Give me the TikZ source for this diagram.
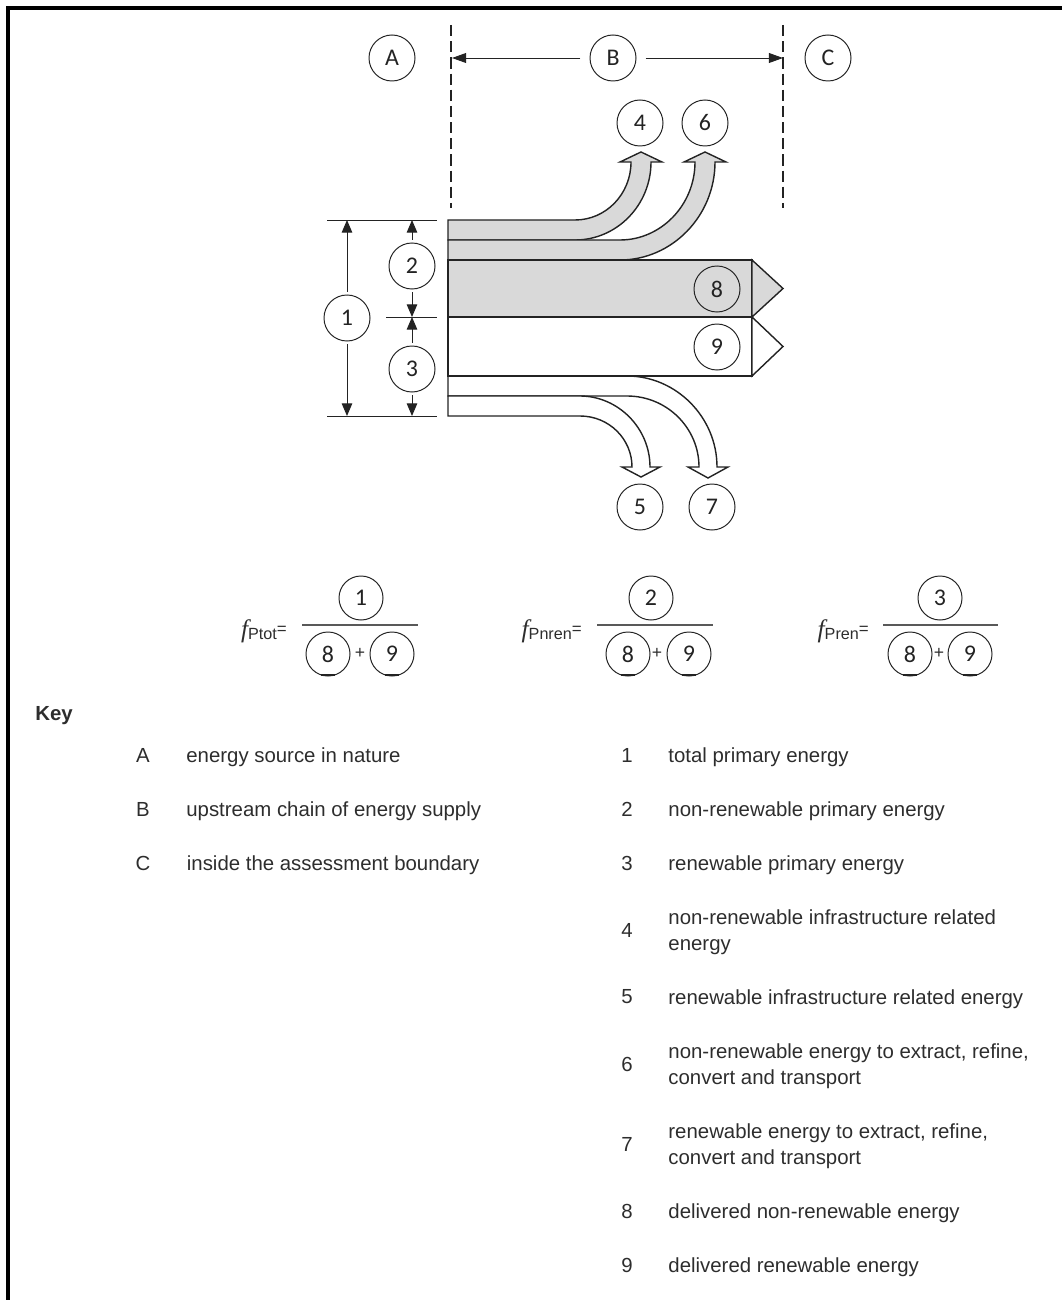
\documentclass[tikz,border=0pt]{standalone}
\usepackage{fontspec}
\setmainfont{Liberation Sans}
\newfontfamily\numfont{Carlito}
\newfontfamily\fsym{Liberation Serif}
\usetikzlibrary{arrows.meta,positioning}
\definecolor{flowgray}{RGB}{217,217,217}
\definecolor{ink}{RGB}{35,35,35}
\definecolor{keyink}{RGB}{45,45,45}
\newcommand{\fname}[1]{{\fsym\itshape\fontsize{18}{18}\selectfont f}\raisebox{-1.5pt}{\fontsize{11.5}{12}\selectfont #1}\raisebox{2pt}{\fontsize{12}{12}\selectfont =}}

\begin{document}
\begin{tikzpicture}[
  x=0.025cm, y=0.025cm,
  every node/.style={text=keyink},
  tag/.style={circle, draw=ink, line width=0.7pt, minimum size=1.15cm,
    inner sep=0pt, font=\numfont\fontsize{17}{17}\selectfont, text=ink},
  ftag/.style={tag, minimum size=1.1cm},
  flow/.style={draw=ink, line width=1pt, line join=miter},
  bound/.style={draw=ink, line width=0.8pt, dash pattern=on 8pt off 3.5pt},
  ext/.style={draw=ink, line width=0.7pt},
  dim/.style={ext, -{Triangle[length=9pt,width=7.5pt]}, shorten <=2pt},
  span/.style={ext, -{Triangle[length=10pt,width=7pt]}, shorten <=6.5pt},
  frac/.style={draw=black!65, line width=1.4pt},
  uline/.style={draw=ink, line width=2pt},
  plus/.style={font=\fontsize{12.5}{12.5}\selectfont, inner sep=0pt},
  keyid/.style={inner sep=0pt, font=\fontsize{14.5}{18.5}\selectfont},
  keytxt/.style={keyid, align=left, yshift=-0.05cm}
]
  \useasboundingbox (0,0) rectangle (1062,-1300);
  \draw[line width=2.2pt] (8,-1300) -- (8,-8) -- (1062,-8);

  % zones and boundaries
  \draw[bound] (451,-25) -- (451,-208);
  \draw[bound] (783,-25) -- (783,-208);
  \node[tag] (zA) at (392,-58) {A};
  \node[tag] (zB) at (613,-58) {B};
  \node[tag] (zC) at (828,-58) {C};
  \coordinate (bndL) at (452,-58);
  \coordinate (bndR) at (783,-58);
  \draw[span] (zB) -- (bndL);
  \draw[span] (zB) -- (bndR);

  % upward flows (grey)
  \draw[flow, fill=flowgray] (448,-220) -- (575,-220) .. controls (606,-220) and (631,-194) .. (631,-162)
    -- (620,-162) -- (641,-152) -- (662,-162) -- (651,-162)
    .. controls (651,-205) and (617,-240) .. (575,-240) -- (448,-240) -- cycle;
  \draw[flow, fill=flowgray] (448,-240) -- (620,-240) .. controls (661,-240) and (695,-205) .. (695,-162)
    -- (684,-162) -- (705,-152) -- (726,-162) -- (715,-162)
    .. controls (715,-216) and (672,-260) .. (620,-260) -- (448,-260) -- cycle;

  % downward flows (white)
  \draw[flow, fill=white] (448,-376) -- (627,-376) .. controls (676,-376) and (717,-417) .. (717,-467)
    -- (728,-467) -- (708,-478) -- (688,-467) -- (699,-467)
    .. controls (699,-428) and (667,-396) .. (627,-396) -- (448,-396) -- cycle;
  \draw[flow, fill=white] (448,-396) -- (580,-396) .. controls (618,-396) and (650,-428) .. (650,-467)
    -- (660,-467) -- (641,-477) -- (622,-467) -- (632,-467)
    .. controls (632,-439) and (609,-416) .. (580,-416) -- (448,-416) -- cycle;

  % delivered energy
  \draw[flow, fill=flowgray] (448,-260) rectangle (752,-317);
  \draw[flow, fill=flowgray] (752,-260) -- (783,-288.5) -- (752,-317) -- cycle;
  \draw[flow, fill=white] (448,-317) rectangle (752,-376);
  \draw[flow, fill=white] (752,-317) -- (783,-346.5) -- (752,-376) -- cycle;

  \node[tag] (n4) at (640,-123) {4};
  \node[tag] (n6) at (705,-123) {6};
  \node[tag] (n5) at (640,-507) {5};
  \node[tag] (n7) at (712,-507) {7};
  \node[tag] (n8) at (717,-289) {8};
  \node[tag] (n9) at (717,-347) {9};

  % dimensions
  \draw[ext] (327,-220) -- (437,-220);
  \draw[ext] (386,-317) -- (437,-317);
  \draw[ext] (327,-416) -- (437,-416);
  \node[tag] (n1) at (347,-318) {1};
  \node[tag] (n2) at (412,-266) {2};
  \node[tag] (n3) at (412,-369) {3};
  \coordinate (d1t) at (347,-220);
  \coordinate (d1b) at (347,-416);
  \coordinate (d2t) at (412,-220);
  \coordinate (d2b) at (412,-317);
  \coordinate (d3t) at (412,-317);
  \coordinate (d3b) at (412,-416);
  \draw[dim] (n1) -- (d1t);
  \draw[dim] (n1) -- (d1b);
  \draw[dim] (n2) -- (d2t);
  \draw[dim] (n2) -- (d2b);
  \draw[dim] (n3) -- (d3t);
  \draw[dim] (n3) -- (d3b);

  % factors
  \node[anchor=base east, inner sep=0pt] (fPtot) at (287,-637) {\fname{Ptot}};
  \draw[frac] (302,-625) -- (418,-625);
  \node[ftag] (ftot) at (361,-598) {1};
  \node[ftag] (ftot8) at (328,-654) {8};
  \node[ftag] (ftot9) at (392,-654) {9};
  \node[plus] (ftotp) at (360,-653) {+};

  \node[anchor=base east, inner sep=0pt] (fPnren) at (582,-637) {\fname{Pnren}};
  \draw[frac] (597,-625) -- (713,-625);
  \node[ftag] (fnren) at (651,-598) {2};
  \node[ftag] (fnren8) at (628,-654) {8};
  \node[ftag] (fnren9) at (689,-654) {9};
  \node[plus] (fnrenp) at (657,-653) {+};

  \node[anchor=base east, inner sep=0pt] (fPren) at (869,-637) {\fname{Pren}};
  \draw[frac] (883,-625) -- (998,-625);
  \node[ftag] (fren) at (940,-598) {3};
  \node[ftag] (fren8) at (910,-654) {8};
  \node[ftag] (fren9) at (970,-654) {9};
  \node[plus] (frenp) at (939,-653) {+};

  \foreach \n in {ftot8,ftot9,fnren8,fnren9,fren8,fren9}
    \draw[uline] (\n.south) +(-7,1.5) -- +(7,1.5);

  % key
  \node[keyid, font=\bfseries\fontsize{14.5}{18.5}\selectfont, anchor=west] (key) at (35,-716) {Key};
  \node[keyid] (kA) at (143,-755) {A};
  \node[keytxt, right=0.9cm of kA] (kAt) {energy source in nature};
  \node[keyid] (kB) at (143,-809) {B};
  \node[keytxt, right=0.9cm of kB] (kBt) {upstream chain of energy supply};
  \node[keyid] (kC) at (143,-863) {C};
  \node[keytxt, right=0.9cm of kC] (kCt) {inside the assessment boundary};

  \node[keyid] (k1) at (627,-755) {1};
  \node[keytxt, right=0.88cm of k1] (k1t) {total primary energy};
  \node[keyid] (k2) at (627,-809) {2};
  \node[keytxt, right=0.88cm of k2] (k2t) {non-renewable primary energy};
  \node[keyid] (k3) at (627,-863) {3};
  \node[keytxt, right=0.88cm of k3] (k3t) {renewable primary energy};
  \node[keyid] (k4) at (627,-930) {4};
  \node[keytxt, right=0.88cm of k4] (k4t) {non-renewable infrastructure related\\energy};
  \node[keyid] (k5) at (627,-997) {5};
  \node[keytxt, right=0.88cm of k5] (k5t) {renewable infrastructure related energy};
  \node[keyid] (k6) at (627,-1064) {6};
  \node[keytxt, right=0.88cm of k6] (k6t) {non-renewable energy to extract, refine,\\convert and transport};
  \node[keyid] (k7) at (627,-1144) {7};
  \node[keytxt, right=0.88cm of k7] (k7t) {renewable energy to extract, refine,\\convert and transport};
  \node[keyid] (k8) at (627,-1211) {8};
  \node[keytxt, right=0.88cm of k8] (k8t) {delivered non-renewable energy};
  \node[keyid] (k9) at (627,-1265) {9};
  \node[keytxt, right=0.88cm of k9] (k9t) {delivered renewable energy};
\end{tikzpicture}
\end{document}
